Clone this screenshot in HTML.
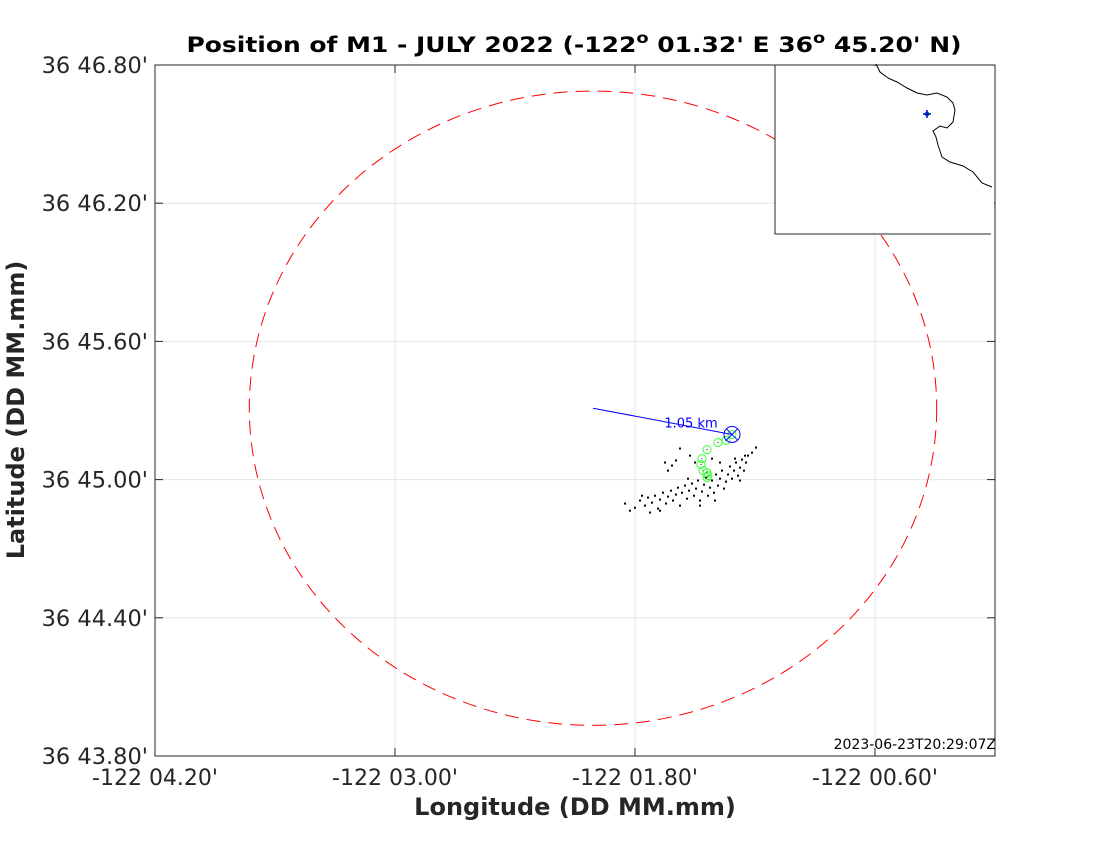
<!DOCTYPE html>
<html><head><meta charset="utf-8"><style>
body{margin:0;background:#fff;}
svg{display:block;font-family:"DejaVu Sans","Liberation Sans",sans-serif;}
</style></head><body>
<svg id="chart" width="1100" height="850">
  <rect width="1100" height="850" fill="#fff"/>
  <g id="grid"></g>
  <g id="marks"></g>
  <rect x="155" y="65" width="840" height="691" fill="none" stroke="#262626" stroke-width="1"/>
  <g id="axes"></g>
  <text x="574" y="52" text-anchor="middle" font-size="21" font-weight="bold" textLength="775" lengthAdjust="spacingAndGlyphs">Position of M1 - JULY 2022 (-122<tspan dy="-9" font-size="15">o</tspan><tspan dy="9"> 01.32' E  36</tspan><tspan dy="-9" font-size="15">o</tspan><tspan dy="9"> 45.20' N)</tspan></text>
  <text x="575" y="815" text-anchor="middle" font-size="24" font-weight="bold" fill="#262626">Longitude (DD MM.mm)</text>
  <text transform="translate(24,410) rotate(-90)" text-anchor="middle" font-size="24" font-weight="bold" fill="#262626">Latitude (DD MM.mm)</text>
  <text x="996" y="749" text-anchor="end" font-size="14">2023-06-23T20:29:07Z</text>
  <g>
    <rect x="775" y="66" width="219" height="168" fill="#fff"/>
    <polyline points="775,65 775,234 991,234" fill="none" stroke="#262626" stroke-width="1"/>
    <polyline fill="none" stroke="#000" stroke-width="1" points="876,64 880,72 884,75 888,78 897,82 907,88 917,93 927,95 937,93 947,97 953,103 955,110 953,122 947,128 940,126 933,131 936,137 938,145 942,157 950,162 963,166 973,172 982,183 992,187"/>
    <circle cx="927" cy="114" r="2.5" fill="#0a0"/>
    <path d="M923 114h8M927 110v8" stroke="#00f" stroke-width="1.5"/>
  </g>
</svg>
<script>
const xTickVals=[4.20,3.00,1.80,0.60];
const xTickLabels=["-122 04.20'","-122 03.00'","-122 01.80'","-122 00.60'"];
const yTickVals=[46.80,46.20,45.60,45.00,44.40,43.80];
const yTickLabels=["36 46.80'","36 46.20'","36 45.60'","36 45.00'","36 44.40'","36 43.80'"];
const centerLon=[2.01];
const centerLat=[45.31];
const radiusKm=[2.55];
const driftKm=[1.05];
const trackLon=[1.315,1.345,1.385,1.440,1.465,1.470,1.460,1.440,1.435,1.440];
const trackLat=[45.196,45.170,45.161,45.130,45.091,45.065,45.039,45.030,45.017,45.009];
const ptLon=[1.850,1.825,1.800,1.775,1.750,1.735,1.715,1.700,1.685,1.675,1.660,1.645,1.635,1.620,1.610,1.595,1.585,1.575,1.565,1.550,1.540,1.530,1.515,1.505,1.495,1.485,1.475,1.465,1.455,1.445,1.435,1.425,1.415,1.405,1.395,1.385,1.375,1.365,1.355,1.345,1.335,1.325,1.315,1.305,1.295,1.285,1.275,1.265,1.255,1.245,1.235,1.215,1.195,1.635,1.615,1.595,1.575,1.650,1.525,1.500,1.415,1.375,1.275,1.675,1.725,1.475,1.400,1.300,1.250,1.765,1.535];
const ptLat=[44.896,44.865,44.878,44.909,44.887,44.922,44.900,44.930,44.874,44.913,44.943,44.896,44.926,44.952,44.909,44.935,44.965,44.887,44.943,44.974,44.917,44.952,44.983,44.930,44.961,44.996,44.909,44.948,44.978,45.009,44.930,44.965,44.996,44.943,45.022,44.974,45.004,45.039,44.961,44.991,45.022,45.057,45.004,45.039,45.074,45.017,45.052,45.087,45.039,45.074,45.104,45.117,45.139,45.039,45.061,45.083,45.135,45.074,45.104,45.074,45.091,45.074,44.996,44.865,44.857,44.887,44.909,45.091,45.104,44.930,45.004];

const NS="http://www.w3.org/2000/svg";
const X0=155,X1=995,Y0=65,Y1=756;
function xs(m){return X0+(4.20-m)*200;}
function ys(m){return Y0+(46.80-m)*(Y1-Y0)/3.0;}
function mk(tag,attrs,parent){const e=document.createElementNS(NS,tag);for(const k in attrs)e.setAttribute(k,attrs[k]);parent.appendChild(e);return e;}
const grid=document.getElementById('grid'),axes=document.getElementById('axes'),marks=document.getElementById('marks');
xTickVals.forEach((v,i)=>{const x=xs(v);
  const g=mk('line',{x1:x,x2:x,y1:Y0,y2:Y1,stroke:'#e6e6e6','stroke-width':1},grid);
  
  mk('line',{x1:x,x2:x,y1:Y1,y2:Y1-8,stroke:'#262626'},axes);
  mk('line',{x1:x,x2:x,y1:Y0,y2:Y0+8,stroke:'#262626'},axes);
  const t=mk('text',{x:x,y:785,'text-anchor':'middle','font-size':22,fill:'#262626'},axes);t.textContent=xTickLabels[i];
  
});
yTickVals.forEach((v,i)=>{const y=ys(v);
  const g=mk('line',{x1:X0,x2:X1,y1:y,y2:y,stroke:'#e6e6e6','stroke-width':1},grid);
  
  mk('line',{x1:X0,x2:X0+8,y1:y,y2:y,stroke:'#262626'},axes);
  mk('line',{x1:X1,x2:X1-8,y1:y,y2:y,stroke:'#262626'},axes);
  const t=mk('text',{x:148,y:y+8,'text-anchor':'end','font-size':22.5,fill:'#262626'},axes);t.textContent=yTickLabels[i];
  
});
const kmLon=1.852*Math.cos((36+centerLat[0]/60)*Math.PI/180), kmLat=1.852;
const cx=xs(centerLon[0]),cy=ys(centerLat[0]);
const rx=radiusKm[0]/kmLon*200, ry=radiusKm[0]/kmLat*(Y1-Y0)/3.0;
const el=mk('ellipse',{cx:cx,cy:cy,rx:rx,ry:ry,fill:'none',stroke:'#f00','stroke-width':1,'stroke-dasharray':'14,8'},marks);

ptLon.forEach((v,i)=>{const r=mk('rect',{x:xs(v)-1,y:ys(ptLat[i])-1,width:2,height:2,fill:'#000'},marks);
  });
trackLon.forEach((v,i)=>{const c=mk('circle',{cx:xs(v),cy:ys(trackLat[i]),r:4,fill:'none',stroke:'#3f3','stroke-width':1},marks);
  
  mk('rect',{x:xs(v)-0.5,y:ys(trackLat[i])-0.5,width:1,height:1,fill:'#000'},marks);});
const lx=xs(trackLon[0]),ly=ys(trackLat[0]);
const ln=mk('line',{x1:cx,y1:cy,x2:lx,y2:ly,stroke:'#00f','stroke-width':1},marks);

const bc=mk('circle',{cx:lx,cy:ly,r:8,fill:'none',stroke:'#00f','stroke-width':1},marks);

mk('path',{d:`M${lx-5.5} ${ly-5.5}L${lx+5.5} ${ly+5.5}M${lx-5.5} ${ly+5.5}L${lx+5.5} ${ly-5.5}`,stroke:'#00f','stroke-width':1},marks);
const dt=mk('text',{x:lx-41,y:ly-7,'text-anchor':'middle','font-size':13,fill:'#00f'},marks);
dt.textContent=driftKm[0].toFixed(2)+' km';

</script>
</body></html>
